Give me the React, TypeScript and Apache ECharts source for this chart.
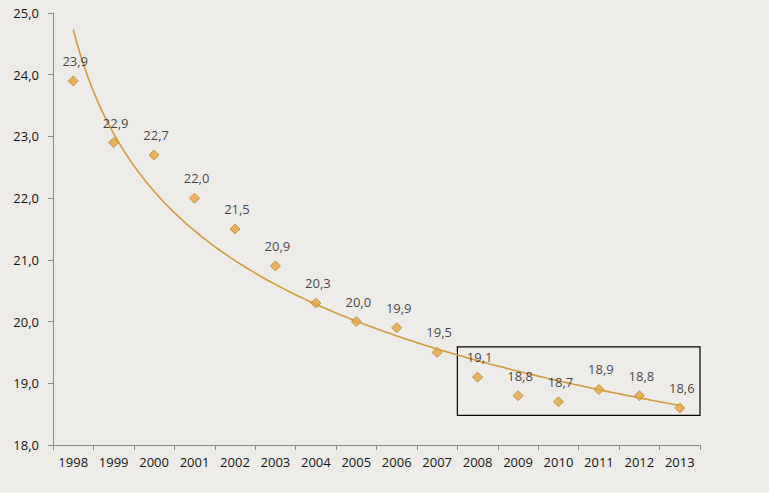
import { useRef, useEffect } from "react";
import * as echarts from "echarts";

const years = [
  "1998", "1999", "2000", "2001", "2002", "2003", "2004", "2005",
  "2006", "2007", "2008", "2009", "2010", "2011", "2012", "2013",
];
const values = [
  23.9, 22.9, 22.7, 22.0, 21.5, 20.9, 20.3, 20.0,
  19.9, 19.5, 19.1, 18.8, 18.7, 18.9, 18.8, 18.6,
];
const yTicks = [18, 25, 1]; // min, max, interval
const boxFrom = "2008";
const boxTo = "2013";

// power trendline (y = a * x^b), like the spreadsheet's
const powerFit = (ys: number[]) => {
  const n = ys.length;
  const lx = ys.map((_, i) => Math.log(i + 1));
  const ly = ys.map((v) => Math.log(v));
  const mx = lx.reduce((s, v) => s + v, 0) / n;
  const my = ly.reduce((s, v) => s + v, 0) / n;
  let sxy = 0;
  let sxx = 0;
  for (let i = 0; i < n; i++) {
    sxy += (lx[i] - mx) * (ly[i] - my);
    sxx += (lx[i] - mx) * (lx[i] - mx);
  }
  const b = sxy / sxx;
  const a = Math.exp(my - b * mx);
  return (x: number) => a * Math.pow(x, b);
};

const fmt = (v: number) => v.toFixed(1).replace(".", ",");

const App = () => {
  const chartRef = useRef<HTMLDivElement>(null);

  useEffect(() => {
    document.body.style.margin = "0";
    if (!chartRef.current) return;
    const myChart = echarts.init(chartRef.current, undefined, { renderer: "svg" });

    const fit = powerFit(values);
    const trend: number[][] = [];
    for (let i = 0; i <= 150; i++) {
      const x = 1 + (i * 15) / 150;
      trend.push([x, fit(x)]);
    }
    const fromIdx = years.indexOf(boxFrom) + 1;
    const toIdx = years.indexOf(boxTo) + 1;

    const font = "'Open Sans', 'Liberation Sans', sans-serif";
    const ink = "#141414";

    const option: any = {
      animation: false,
      backgroundColor: "#eeece9",
      textStyle: { fontFamily: font },
      grid: { left: 53, right: 69, top: 13, bottom: 48 },
      xAxis: [
        {
          type: "category",
          data: years,
          boundaryGap: true,
          axisLine: { lineStyle: { color: "#8a8a8a", width: 1 } },
          axisTick: { show: true, length: 5, lineStyle: { color: "#8a8a8a" } },
          axisLabel: { color: ink, fontSize: 13, margin: 10, fontFamily: font },
          splitLine: { show: false },
        },
        {
          type: "value",
          min: 0.5,
          max: 16.5,
          show: false,
        },
      ],
      yAxis: {
        type: "value",
        min: yTicks[0],
        max: yTicks[1],
        interval: yTicks[2],
        axisLine: { show: true, lineStyle: { color: "#8a8a8a", width: 1 } },
        axisTick: { show: true, length: 5, lineStyle: { color: "#8a8a8a" } },
        axisLabel: {
          color: ink,
          fontSize: 13,
          margin: 14,
          fontFamily: font,
          formatter: (v: number) => fmt(v),
        },
        splitLine: { show: false },
      },
      series: [
        {
          type: "line",
          xAxisIndex: 1,
          data: trend,
          showSymbol: false,
          symbol: "none",
          lineStyle: { color: "#d29a3e", width: 1.6 },
          z: 2,
          silent: true,
          markArea: {
            silent: true,
            itemStyle: {
              color: "rgba(0,0,0,0)",
              borderColor: "#000",
              borderWidth: 1.2,
            },
            data: [
              [
                { coord: [fromIdx - 0.5, 19.59] },
                { coord: [toIdx + 0.55, 18.48] },
              ],
            ],
          },
        },
        {
          type: "scatter",
          data: values,
          symbol: "diamond",
          symbolSize: 10,
          itemStyle: {
            color: "#e6a23a",
            borderColor: "#b8862e",
            borderWidth: 1,
          },
          label: {
            show: true,
            position: "top",
            distance: 8,
            offset: [2, 0],
            color: ink,
            fontSize: 13,
            fontFamily: font,
            formatter: (p: any) => fmt(p.value),
          },
          z: 3,
        },
      ],
    };
    myChart.setOption(option);

    return () => {
      myChart.dispose();
    };
  }, []);

  return (
    <div
      ref={chartRef}
      style={{ width: 769, height: 493, background: "#eeece9" }}
    ></div>
  );
};

export default App;
